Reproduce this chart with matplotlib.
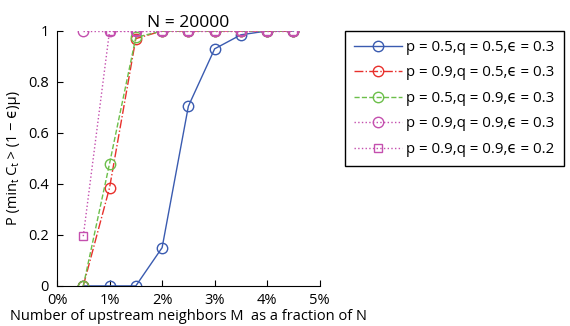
import matplotlib
matplotlib.use('Agg')
import matplotlib.pyplot as plt

plt.rcParams.update({'font.size': 10.5, 'font.family': ['Open Sans', 'DejaVu Sans']})

frac = [0.005, 0.01, 0.015, 0.02, 0.025, 0.03, 0.035, 0.04, 0.045]
p5_q5_e3 = [0, 0, 0, 0.15, 0.705, 0.93, 0.985, 1, 1]
p9_q5_e3 = [0, 0.385, 0.97, 1, 1, 1, 1, 1, 1]
p5_q9_e3 = [0, 0.48, 0.975, 1, 1, 1, 1, 1, 1]
p9_q9_e3 = [1, 1, 1, 1, 1, 1, 1, 1, 1]
p9_q9_e2 = [0.195, 1, 1, 1, 1, 1, 1, 1, 1]

labels = ['p = 0.5,q = 0.5,ϵ = 0.3',
          'p = 0.9,q = 0.5,ϵ = 0.3',
          'p = 0.5,q = 0.9,ϵ = 0.3',
          'p = 0.9,q = 0.9,ϵ = 0.3',
          'p = 0.9,q = 0.9,ϵ = 0.2']

fig = plt.figure(figsize=(5.7, 3.26), dpi=100)
ax = fig.add_axes([0.1, 0.123, 0.461, 0.782])

ax.plot(frac, p5_q5_e3, '-', color='#3a5bb0', marker='o', mfc='none', ms=7.5, lw=1, label=labels[0])
ax.plot(frac, p9_q5_e3, '-.', color='#e8302c', marker='o', mfc='none', ms=7.5, lw=1, label=labels[1])
ax.plot(frac, p5_q9_e3, '--', color='#6cbf4a', marker='o', mfc='none', ms=7.5, lw=1, label=labels[2])
ax.plot(frac, p9_q9_e3, ':', color='#c44fae', marker='o', mfc='none', ms=7.5, lw=1, label=labels[3])
ax.plot(frac, p9_q9_e2, ':', color='#c44fae', marker='s', mfc='none', ms=6, lw=1, label=labels[4])

ax.set_xlim(0, 0.05)
ax.set_ylim(0, 1)
ax.set_xticks([0, 0.01, 0.02, 0.03, 0.04, 0.05])
ax.set_xticklabels(['0%', '1%', '2%', '3%', '4%', '5%'])
ax.set_yticks([0, 0.2, 0.4, 0.6, 0.8, 1])
ax.set_yticklabels(['0', '0.2', '0.4', '0.6', '0.8', '1'])
ax.tick_params(direction='in', length=4)
ax.tick_params(axis='x', pad=5)
ax.tick_params(axis='y', pad=6)
ax.spines['top'].set_visible(False)
ax.spines['right'].set_visible(False)
ax.set_title('N = 20000', pad=3)
ax.set_xlabel('Number of upstream neighbors M  as a fraction of N', labelpad=1)
ax.set_ylabel('P (minₜ Cₜ > (1 − ϵ)μ)', labelpad=5)

leg = fig.legend(loc='upper left', bbox_to_anchor=(0.605, 0.905), borderaxespad=0,
                 fancybox=False, edgecolor='black', framealpha=1, borderpad=0.6,
                 labelspacing=0.7, handlelength=3.2, handletextpad=0.3, fontsize=10.8)
leg.get_frame().set_linewidth(1)

fig.savefig('out.png', dpi=100)
